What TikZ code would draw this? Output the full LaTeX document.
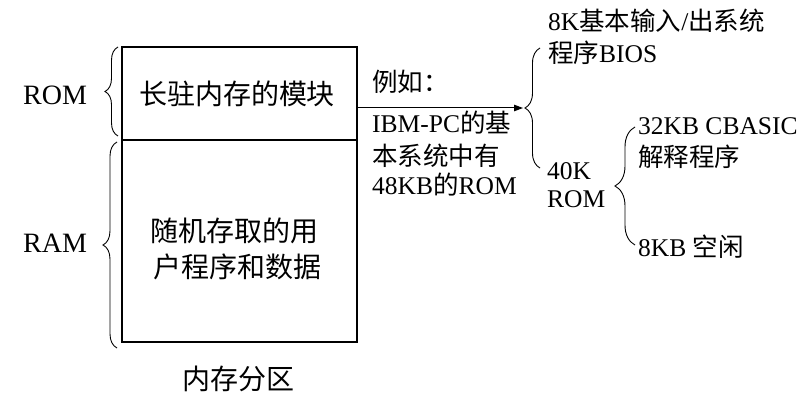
\documentclass[tikz,border=0pt]{standalone}
\usepackage{fontspec}
\setmainfont{Liberation Serif}
\newfontfamily\cjk{Noto Sans CJK SC}
\usetikzlibrary{decorations.pathreplacing,arrows.meta}
\newcommand\zh[1]{{\cjk #1}}
\begin{document}
\begin{tikzpicture}[x=1pt,y=-1pt,
  bigtxt/.style={font=\fontsize{28}{34}\selectfont, inner sep=0pt, anchor=base},
  bigleft/.style={font=\fontsize{28}{34}\selectfont, inner sep=0pt, anchor=base west},
  smalltxt/.style={font=\fontsize{25.5}{31}\selectfont, inner sep=0pt, anchor=base west},
  membox/.style={draw, line width=1.2pt, minimum width=235pt, inner sep=0pt},
  bracepath/.style={decorate, decoration={brace, amplitude=#1}, line width=0.9pt}]
\useasboundingbox (0,0) rectangle (812,403);

% memory boxes
\node[membox, minimum height=93pt] (rom) at (239.5,93.5) {};
\node[membox, minimum height=202pt] (ram) at (239.5,241) {};

% texts inside
\node[bigtxt] (romtext) at (237,104.6) {\zh{长驻内存的模块}};
\node[bigtxt] (ramtext1) at (234,242) {\zh{随机存取的用}};
\node[bigtxt] (ramtext2) at (237,277.5) {\zh{户程序和数据}};
\node[bigtxt] (caption) at (238,389.5) {\zh{内存分区}};

% left labels
\node[bigleft] (romlabel) at (23,105) {ROM};
\node[bigleft] (ramlabel) at (23,253) {RAM};

% left braces
\draw[bracepath=13] (118,136) -- (118,47);
\draw[bracepath=14] (117,348) -- (117,142);

% example text
\node[smalltxt] (ex1) at (372,91.5) {\zh{例如：}};
\node[smalltxt] (ex2) at (372,133) {IBM-PC\zh{的基}};
\node[smalltxt] (ex3) at (372,165.5) {\zh{本系统中有}};
\node[smalltxt] (ex4) at (372,195) {48KB\zh{的}ROM};

% arrow
\coordinate (tipA) at (523,108);
\draw[line width=1pt, -{Triangle[length=9pt,width=6.5pt]}] (rom.east |- tipA) -- (tipA);

% right braces
\draw[bracepath=15] (540,168) -- (540,48);
\draw[bracepath=20] (635,245) -- (635,127);

% right texts
\node[smalltxt] (bios1) at (548,30.5) {8K\zh{基本输入}/\zh{出系统}};
\node[smalltxt] (bios2) at (548,62.5) {\zh{程序}BIOS};
\node[smalltxt] (rom40a) at (547,180) {40K};
\node[smalltxt] (rom40b) at (547,208) {ROM};
\node[smalltxt] (cb1) at (638,135) {32KB CBASIC};
\node[smalltxt] (cb2) at (638,166.5) {\zh{解释程序}};
\node[smalltxt] (free) at (638,256.5) {8KB \zh{空闲}};
\end{tikzpicture}
\end{document}
